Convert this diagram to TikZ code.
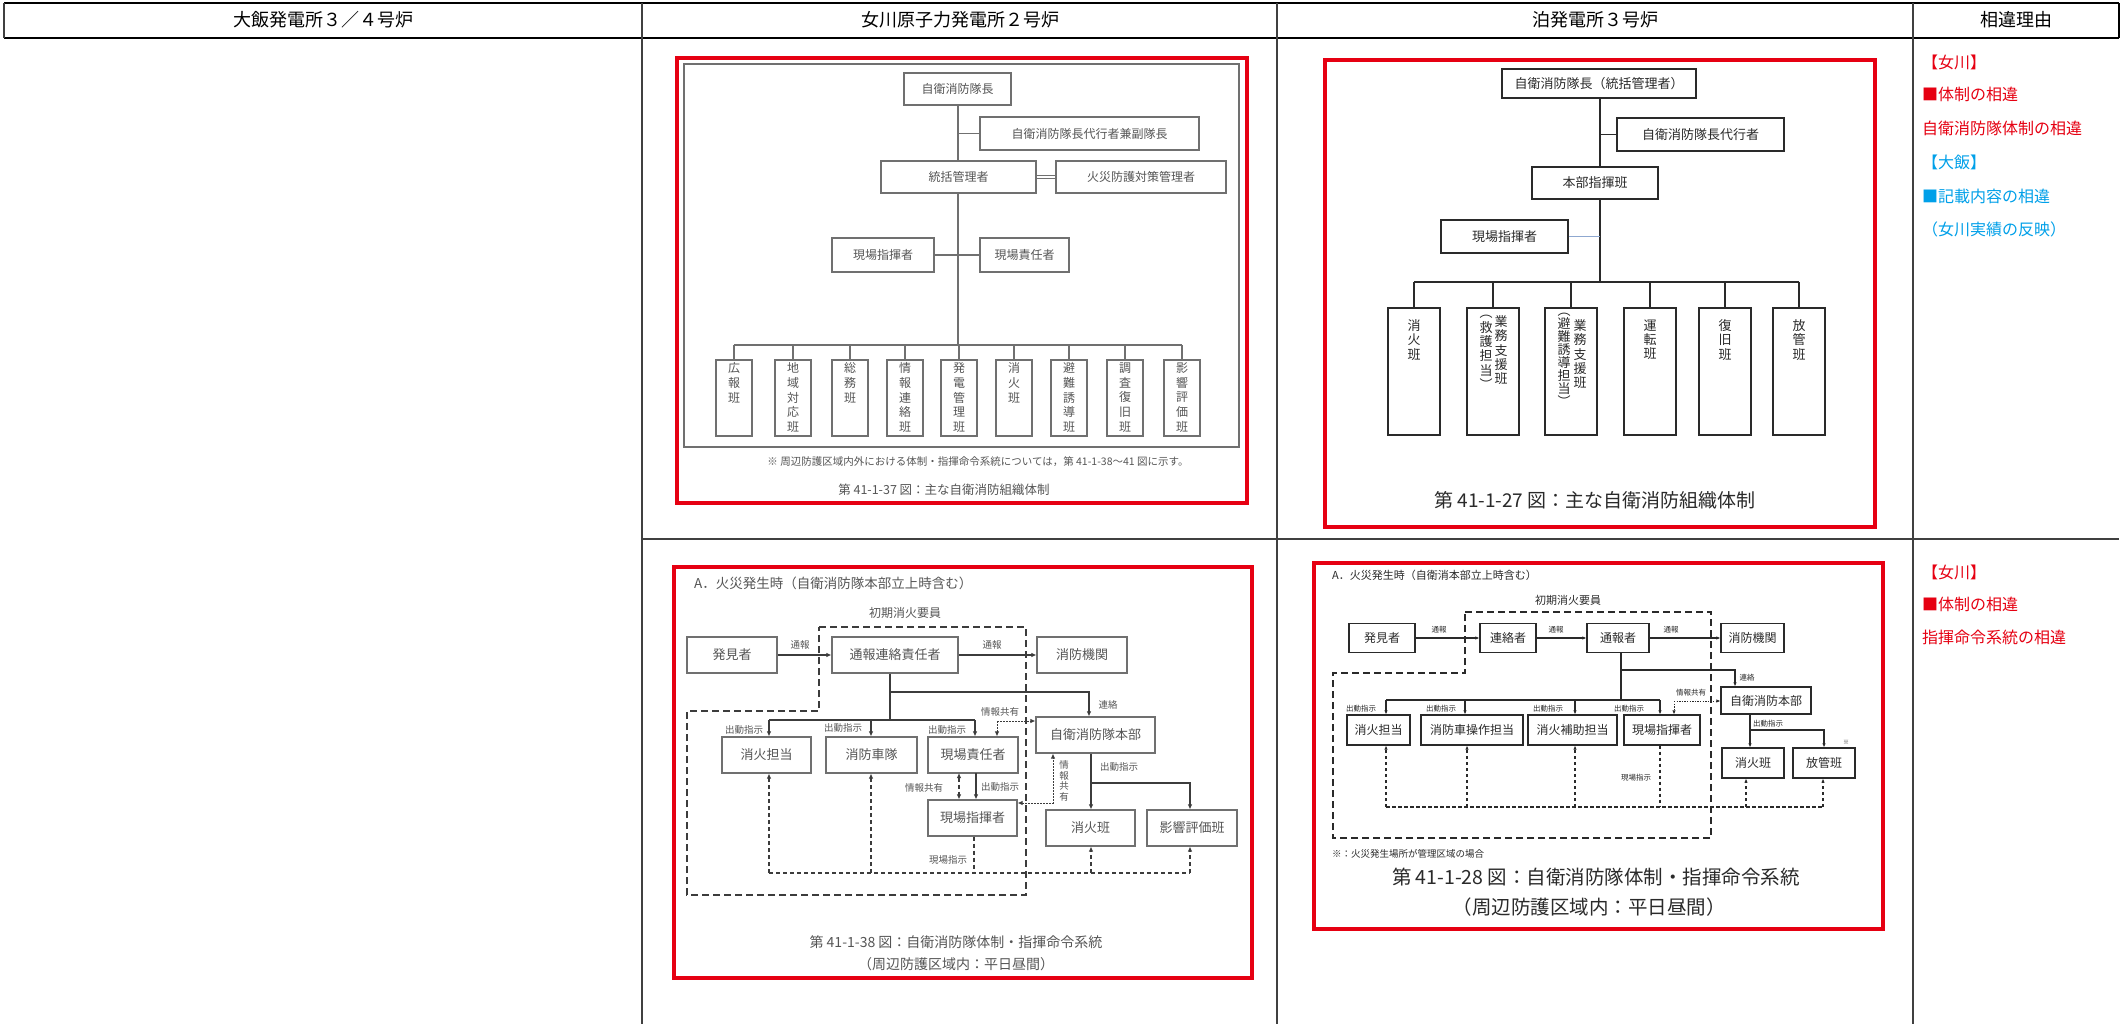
\documentclass[tikz,border=0pt]{standalone}
\usepackage{fontspec}
\setmainfont{Noto Sans CJK JP}
\usetikzlibrary{arrows.meta}
\definecolor{tred}{HTML}{E60012}
\definecolor{tcyan}{HTML}{00A0E9}
\definecolor{ogray}{HTML}{707070}
\definecolor{otext}{HTML}{555555}
\definecolor{oarrow}{HTML}{3C3C3C}
\definecolor{tdark}{HTML}{2A2A2A}
\definecolor{tblue}{HTML}{8FA8D0}
\newcommand\fsz[2]{\fontsize{#1}{#2}\selectfont}
\begin{document}
\begin{tikzpicture}[x=1pt,y=-1pt,
  hdr/.style={font=\fsz{18}{18}, text=black, inner sep=0pt},
  tbl/.style={draw=black!75, line width=1.2pt},
  redbox/.style={draw=tred, line width=4.5pt},
  ob/.style={draw=ogray, line width=1.1pt, fill=white, text=otext, font=\fsz{12}{12}, inner sep=0pt},
  ovt/.style={text=otext, font=\fsz{12}{14.7}, align=center, inner sep=0pt},
  oline/.style={draw=ogray, line width=1.1pt},
  otxt/.style={text=otext, inner sep=0pt},
  tb/.style={draw=tdark, line width=1.3pt, fill=white, text=tdark, font=\fsz{13}{13}, inner sep=0pt},
  tvt/.style={text=tdark, font=\fsz{13}{14.3}, align=center, inner sep=0pt},
  tline/.style={draw=tdark, line width=1.2pt},
  cb/.style={draw=ogray, line width=1.1pt, fill=white, text=otext, font=\fsz{13}{13}, inner sep=0pt, minimum height=36pt},
  cline/.style={draw=oarrow, line width=1.1pt},
  cdot/.style={draw=oarrow, line width=1pt, dash pattern=on 1.5pt off 1.5pt},
  cdash/.style={draw=oarrow, line width=1.2pt, dash pattern=on 4pt off 3pt},
  bigdash/.style={draw=#1, line width=2.2pt, dash pattern=on 7pt off 4pt},
  clab/.style={text=otext, font=\fsz{9.5}{10}, inner sep=0pt},
  db/.style={draw=tdark, line width=1.3pt, fill=white, text=tdark, font=\fsz{12}{12}, inner sep=0pt, minimum height=29pt},
  dline/.style={draw=tdark, line width=1.1pt},
  ddot/.style={draw=tdark, line width=0.9pt, dash pattern=on 1.3pt off 1.3pt},
  ddash/.style={draw=tdark, line width=1.1pt, dash pattern=on 3.5pt off 2.5pt},
  dlab/.style={text=tdark, font=\fsz{7.5}{8}, inner sep=0pt},
  rtxt/.style={anchor=west, font=\fsz{16}{16}, inner sep=0pt}
]
\useasboundingbox (0,0) rectangle (2123,1024);
\fill[white] (0,0) rectangle (2123,1024);

% ---------------- table ----------------
\draw[black, line width=2.5pt] (4,3) -- (2119,3);
\draw[black, line width=1.6pt] (4,38) -- (2119,38);
\draw[tbl] (4,3) -- (4,38);
\draw[black, line width=2.5pt] (2119,3) -- (2119,38);
\draw[tbl] (642,3) -- (642,1024);
\draw[tbl] (1277,3) -- (1277,1024);
\draw[tbl] (1913,3) -- (1913,1024);
\draw[tbl] (642,539) -- (2119,539);
\node[hdr] (h1) at (323,20) {大飯発電所３／４号炉};
\node[hdr] (h2) at (960,20) {女川原子力発電所２号炉};
\node[hdr] (h3) at (1595,20) {泊発電所３号炉};
\node[hdr] (h4) at (2016,20) {相違理由};

% ---------------- right column ----------------
\node[rtxt, text=tred] (r1) at (1922,62) {【女川】};
\node[rtxt, text=tred] (r2) at (1922,94) {■体制の相違};
\node[rtxt, text=tred] (r3) at (1922,128) {自衛消防隊体制の相違};
\node[rtxt, text=tcyan] (r4) at (1922,162) {【大飯】};
\node[rtxt, text=tcyan] (r5) at (1922,196) {■記載内容の相違};
\node[rtxt, text=tcyan] (r6) at (1922,229) {（女川実績の反映）};
\node[rtxt, text=tred] (r7) at (1922,572) {【女川】};
\node[rtxt, text=tred] (r8) at (1922,604) {■体制の相違};
\node[rtxt, text=tred] (r9) at (1922,637) {指揮命令系統の相違};

% ---------------- Onagawa organisation ----------------
\draw[redbox] (677,58) rectangle (1247,503);
\draw[oline] (684,64) rectangle (1239,447);
\node[ob, minimum width=107pt, minimum height=32pt] (o1) at (957.5,89) {自衛消防隊長};
\node[ob, minimum width=219pt, minimum height=33pt] (o2) at (1089.5,133.5) {自衛消防隊長代行者兼副隊長};
\node[ob, minimum width=155pt, minimum height=32pt] (o3) at (958.5,177) {統括管理者};
\node[ob, minimum width=170pt, minimum height=32pt] (o4) at (1141,177) {火災防護対策管理者};
\node[ob, minimum width=102pt, minimum height=34pt] (o5) at (883,255) {現場指揮者};
\node[ob, minimum width=89pt, minimum height=34pt] (o6) at (1024.5,255) {現場責任者};
\coordinate (obus) at (958,345);
\draw[oline] (obus |- o1.south) -- (obus |- o3.north);
\draw[oline] (obus |- o3.south) -- (obus);
\draw[oline] (obus |- o2.west) -- (o2.west);
\draw[oline, double, double distance=1.6pt, line width=0.9pt] (o3.east) -- (o4.west);
\draw[oline] (o5.east) -- (o6.west);
\draw[oline] (734,345) -- (1182,345);
\foreach \x/\n/\t in {734/a/{広\\報\\班}, 793/b/{地\\域\\対\\応\\班}, 850/c/{総\\務\\班},
  905/d/{情\\報\\連\\絡\\班}, 959/e/{発\\電\\管\\理\\班}, 1014/f/{消\\火\\班},
  1069/g/{避\\難\\誘\\導\\班}, 1125/h/{調\\査\\復\\旧\\班}, 1182/i/{影\\響\\評\\価\\班}}{
  \node[ob, minimum width=36pt, minimum height=76pt] (ox\n) at (\x,398) {};
  \draw[oline] (ox\n.north |- obus) -- (ox\n.north);
  \node[ovt, anchor=north] (oxt\n) at ([yshift=-3pt]ox\n.north) {\t};
}
\node[otxt, font=\fsz{10.5}{11}] (onote) at (978,462) {※\ 周辺防護区域内外における体制・指揮命令系統については，第 41-1-38～41 図に示す。};
\node[otxt, font=\fsz{12.5}{13}] (ocap) at (944,490) {第 41-1-37 図：主な自衛消防組織体制};

% ---------------- Tomari organisation ----------------
\draw[redbox] (1325,60) rectangle (1875,527);
\node[tb, minimum width=194pt, minimum height=29pt] (t1) at (1599,83.5) {自衛消防隊長（統括管理者）};
\node[tb, minimum width=167pt, minimum height=33pt] (t2) at (1700.5,134.5) {自衛消防隊長代行者};
\node[tb, minimum width=126pt, minimum height=32pt] (t3) at (1595,183) {本部指揮班};
\node[tb, minimum width=127pt, minimum height=33pt] (t4) at (1504.5,236.5) {現場指揮者};
\coordinate (tbus) at (1600,282);
\draw[tline] (tbus |- t1.south) -- (tbus |- t3.north);
\draw[tline] (tbus |- t3.south) -- (tbus);
\draw[tline] (tbus |- t2.west) -- (t2.west);
\draw[draw=tblue, line width=1.2pt] (t4.east) -- (tbus |- t4.east);
\draw[tline] (1414,282) -- (1799,282);
\foreach \x/\n in {1414/a,1493/b,1571/c,1650/d,1725/e,1799/f}{
  \node[tb, minimum width=52pt, minimum height=127pt] (tx\n) at (\x,371.5) {};
  \draw[tline] (tx\n.north |- tbus) -- (tx\n.north);
}
\node[tvt, anchor=north] (txta) at ([yshift=-12pt]txa.north) {消\\火\\班};
\node[tvt, anchor=north] (txtb1) at ([xshift=8pt,yshift=-8pt]txb.north) {業\\務\\支\\援\\班};
\node[tvt, anchor=north] (txtb2) at ([xshift=-7pt,yshift=-8pt]txb.north) {︵\\救\\護\\担\\当\\︶};
\node[tvt, anchor=north] (txtc1) at ([xshift=9pt,yshift=-12pt]txc.north) {業\\務\\支\\援\\班};
\node[tvt, anchor=north, font=\fsz{13}{13}] (txtc2) at ([xshift=-7pt,yshift=-6pt]txc.north) {︵\\避\\難\\誘\\導\\担\\当\\︶};
\node[tvt, anchor=north] (txtd) at ([yshift=-12pt]txd.north) {運\\転\\班};
\node[tvt, anchor=north] (txte) at ([yshift=-12pt]txe.north) {復\\旧\\班};
\node[tvt, anchor=north] (txtf) at ([yshift=-12pt]txf.north) {放\\管\\班};
\node[text=tdark, inner sep=0pt, font=\fsz{19}{19}] (tcap) at (1595,500) {第 41-1-27 図：主な自衛消防組織体制};

% ---------------- Onagawa command system ----------------
\begin{scope}[>={Latex[length=5pt,width=4.5pt]}]
\draw[redbox] (674,567) rectangle (1252,978);
\node[otxt, anchor=west, font=\fsz{13.5}{14}] (ct) at (694,583) {A．火災発生時（自衛消防隊本部立上時含む）};
\node[otxt, font=\fsz{12}{12}] (cs) at (905,613) {初期消火要員};
\draw[bigdash=oarrow] (819,627) -- (1026,627) -- (1026,895) -- (687,895) -- (687,711) -- (819,711) -- cycle;
\node[cb, minimum width=90pt] (c1) at (732,655) {発見者};
\node[cb, minimum width=126pt] (c2) at (895,655) {通報連絡責任者};
\node[cb, minimum width=90pt] (c3) at (1082,655) {消防機関};
\node[cb, minimum width=89pt] (c4) at (766.5,755) {消火担当};
\node[cb, minimum width=91pt] (c5) at (871.5,755) {消防車隊};
\node[cb, minimum width=90pt] (c6) at (973,755) {現場責任者};
\node[cb, minimum width=89pt] (c7) at (972.5,818) {現場指揮者};
\node[cb, minimum width=119pt] (c8) at (1095.5,735) {自衛消防隊本部};
\node[cb, minimum width=89pt] (c9) at (1090.5,828) {消火班};
\node[cb, minimum width=90pt] (c10) at (1192,828) {影響評価班};
\draw[cline,->] (c1.east) -- (c2.west);
\node[clab] (cl1) at (800,645) {通報};
\draw[cline,->] (c2.east) -- (c3.west);
\node[clab] (cl2) at (992,645) {通報};
\coordinate (cj) at (890,692);
\coordinate (cja) at (1089,692);
\draw[cline,->] (c2.south -| cj) -- (cj) -- (cja) -- (cja |- c8.north);
\node[clab] (cl3) at (1108,705) {連絡};
\coordinate (ck) at (890,720);
\coordinate (cb1) at (769,720);
\coordinate (cb2) at (871,720);
\coordinate (cb3) at (975,720);
\draw[cline] (cj) -- (ck);
\draw[cline] (cb1) -- (cb3);
\draw[cline,->] (cb1) -- (cb1 |- c4.north);
\draw[cline,->] (cb2) -- (cb2 |- c5.north);
\draw[cline,->] (cb3) -- (cb3 |- c6.north);
\node[clab] (cl4) at (744,730) {出動指示};
\node[clab] (cl5) at (843,728) {出動指示};
\node[clab] (cl6) at (947,730) {出動指示};
\coordinate (ci1) at (997,721);
\draw[cdot,->] (ci1) -- (ci1 |- c6.north);
\draw[cdot,->] (ci1) -- (ci1 -| c8.west);
\node[clab] (cl7) at (1000,712) {情報共有};
\coordinate (cc1) at (976,773);
\draw[cline,->] (cc1) -- (cc1 |- c7.north);
\node[clab] (cl8) at (1000,787) {出動指示};
\coordinate (cc2) at (959,773);
\draw[cdash,<->] (cc2) -- (cc2 |- c7.north);
\node[clab] (cl9) at (924,788) {情報共有};
\coordinate (cc3) at (1053,803);
\draw[cdot,<->] (cc3 -| c7.east) -- (cc3) -- (cc3 |- c8.south);
\node[clab, align=center, font=\fsz{9.5}{10.5}] (cl10) at (1064,781) {情\\報\\共\\有};
\coordinate (cc4) at (1091,783);
\coordinate (cc5) at (1190,783);
\draw[cline] (cc4 |- c8.south) -- (cc4);
\draw[cline,->] (cc4) -- (cc4 |- c9.north);
\draw[cline,->] (cc4) -- (cc5) -- (cc5 |- c10.north);
\node[clab] (cl11) at (1119,767) {出動指示};
\coordinate (cd1) at (769,873);
\coordinate (cd2) at (871,873);
\coordinate (cd3) at (974,873);
\coordinate (cd4) at (1091,873);
\coordinate (cd5) at (1190,873);
\draw[cdash] (cd1) -- (cd5);
\draw[cdash,->] (cd1) -- (cd1 |- c4.south);
\draw[cdash,->] (cd2) -- (cd2 |- c5.south);
\draw[cdash,->] (cd4) -- (cd4 |- c9.south);
\draw[cdash,->] (cd5) -- (cd5 |- c10.south);
\draw[cdash] (cd3 |- c7.south) -- (cd3);
\node[clab] (cl12) at (948,860) {現場指示};
\node[otxt, font=\fsz{14}{14}] (ccap1) at (956,942) {第 41-1-38 図：自衛消防隊体制・指揮命令系統};
\node[otxt, font=\fsz{14}{14}] (ccap2) at (956,964) {（周辺防護区域内：平日昼間）};
\end{scope}

% ---------------- Tomari command system ----------------
\begin{scope}[>={Latex[length=4pt,width=3.5pt]}]
\draw[redbox] (1314,563) rectangle (1883,929);
\node[text=tdark, inner sep=0pt, anchor=west, font=\fsz{11}{11}] (dt) at (1332,575) {A．火災発生時（自衛消本部立上時含む）};
\node[text=tdark, inner sep=0pt, font=\fsz{11}{11}] (ds) at (1568,600) {初期消火要員};
\draw[bigdash=tdark] (1465,612) -- (1711,612) -- (1711,838) -- (1333,838) -- (1333,673) -- (1465,673) -- cycle;
\node[db, minimum width=66pt] (d1) at (1382,638) {発見者};
\node[db, minimum width=56pt] (d2) at (1508,638) {連絡者};
\node[db, minimum width=62pt] (d3) at (1618,638) {通報者};
\node[db, minimum width=63pt] (d4) at (1752.5,638) {消防機関};
\node[db, minimum width=63pt, minimum height=30pt] (d5) at (1378.5,730) {消火担当};
\node[db, minimum width=102pt, minimum height=30pt] (d6) at (1472,730) {消防車操作担当};
\node[db, minimum width=89pt, minimum height=30pt] (d7) at (1572.5,730) {消火補助担当};
\node[db, minimum width=76pt, minimum height=30pt] (d8) at (1662,730) {現場指揮者};
\node[db, minimum width=90pt, minimum height=27pt] (d9) at (1766,700.5) {自衛消防本部};
\node[db, minimum width=62pt, minimum height=30pt] (d10) at (1753,763) {消火班};
\node[db, minimum width=62pt, minimum height=30pt] (d11) at (1824,763) {放管班};
\draw[dline,->] (d1.east) -- (d2.west);
\node[dlab] (dl1) at (1439,630) {通報};
\draw[dline,->] (d2.east) -- (d3.west);
\node[dlab] (dl2) at (1556,630) {通報};
\draw[dline,->] (d3.east) -- (d4.west);
\node[dlab] (dl3) at (1671,630) {通報};
\coordinate (dj) at (1621,670);
\coordinate (dja) at (1735,670);
\draw[dline,->] (d3.south -| dj) -- (dj) -- (dja) -- (dja |- d9.north);
\node[dlab] (dl4) at (1747,678) {連絡};
\coordinate (dk) at (1621,700);
\coordinate (db1) at (1386,700);
\coordinate (db2) at (1465,700);
\coordinate (db3) at (1575,700);
\coordinate (db4) at (1660,700);
\draw[dline] (dj) -- (dk);
\draw[dline] (db1) -- (db4);
\draw[dline,->] (db1) -- (db1 |- d5.north);
\draw[dline,->] (db2) -- (db2 |- d6.north);
\draw[dline,->] (db3) -- (db3 |- d7.north);
\draw[dline,->] (db4) -- (db4 |- d8.north);
\node[dlab] (dl5) at (1361,709) {出動指示};
\node[dlab] (dl6) at (1441,709) {出動指示};
\node[dlab] (dl7) at (1548,709) {出動指示};
\node[dlab] (dl8) at (1629,709) {出動指示};
\coordinate (di1) at (1674,701);
\draw[ddot,->] (di1) -- (di1 |- d8.north);
\draw[ddot,->] (di1) -- (di1 -| d9.west);
\node[dlab] (dl9) at (1691,693) {情報共有};
\coordinate (dc1) at (1750,730);
\coordinate (dc2) at (1824,730);
\draw[dline] (dc1 |- d9.south) -- (dc1);
\draw[dline,->] (dc1) -- (dc1 |- d10.north);
\draw[dline,->] (dc1) -- (dc2) -- (dc2 |- d11.north);
\node[dlab] (dl10) at (1768,724) {出動指示};
\node[dlab, font=\fsz{6}{6}] (dl11) at (1846,742) {※};
\coordinate (dd1) at (1386,807);
\coordinate (dd2) at (1467,807);
\coordinate (dd3) at (1575,807);
\coordinate (dd4) at (1660,807);
\coordinate (dd5) at (1746,807);
\coordinate (dd6) at (1823,807);
\draw[ddash] (dd1) -- (dd6);
\draw[ddash,->] (dd1) -- (dd1 |- d5.south);
\draw[ddash,->] (dd2) -- (dd2 |- d6.south);
\draw[ddash,->] (dd3) -- (dd3 |- d7.south);
\draw[ddash,->] (dd5) -- (dd5 |- d10.south);
\draw[ddash,->] (dd6) -- (dd6 |- d11.south);
\draw[ddash] (dd4 |- d8.south) -- (dd4);
\node[dlab] (dl12) at (1636,778) {現場指示};
\node[text=tdark, inner sep=0pt, anchor=west, font=\fsz{9.5}{10}] (dnote) at (1332,854) {※：火災発生場所が管理区域の場合};
\node[text=tdark, inner sep=0pt, font=\fsz{19.5}{20}] (dcap1) at (1596,877) {第 41-1-28 図：自衛消防隊体制・指揮命令系統};
\node[text=tdark, inner sep=0pt, font=\fsz{19.5}{20}] (dcap2) at (1589,907) {（周辺防護区域内：平日昼間）};
\end{scope}
\end{tikzpicture}
\end{document}
